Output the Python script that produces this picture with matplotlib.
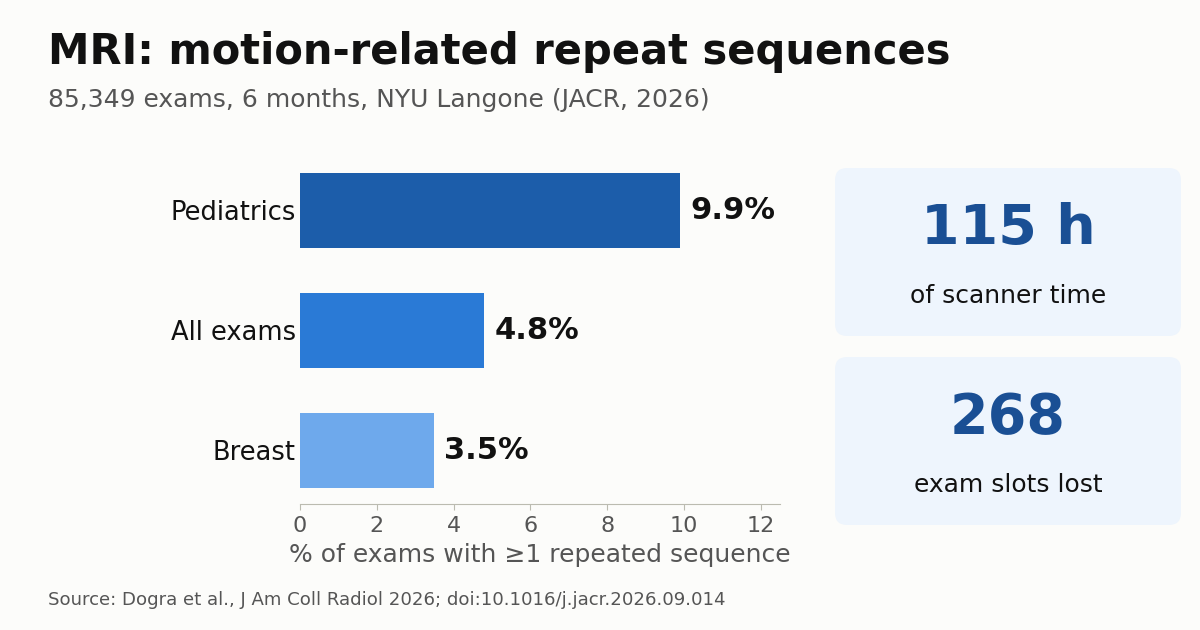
import matplotlib.pyplot as plt
from matplotlib.patches import FancyBboxPatch

# data
categories = ['Breast', 'All exams', 'Pediatrics']
values = [3.5, 4.8, 9.9]
bar_colors = ['#6ea9ec', '#2a7ad6', '#1c5daa']
xticks = [0, 2, 4, 6, 8, 10, 12]
card_values = ['115 h', '268']
card_labels = ['of scanner time', 'exam slots lost']

bg = '#fcfcfa'
plt.rcParams['font.family'] = ['DejaVu Sans']

fig = plt.figure(figsize=(12, 6.3), dpi=100, facecolor=bg)
ax = fig.add_axes([0.25, 0.2, 0.4, 0.552])
ax.set_facecolor(bg)

ypos = range(len(categories))
ax.barh(ypos, values, height=0.625, color=bar_colors)
for y, v in zip(ypos, values):
    ax.text(v + 0.26, y, f'{v:.1f}%', va='center', ha='left',
            fontsize=22, fontweight='bold', color='#111111')

ax.set_xlim(0, 12.5)
ax.set_ylim(-0.45, 2.45)
ax.set_yticks(list(ypos))
ax.set_yticklabels(categories, fontsize=18.5, color='#111111')
ax.tick_params(axis='y', length=0, pad=3)
ax.set_xticks(xticks)
ax.tick_params(axis='x', labelsize=16, colors='#555555', length=4, color='#bbbbb0', pad=5)
ax.set_xlabel('% of exams with \u22651 repeated sequence', fontsize=18,
              color='#555555', labelpad=5)
for s in ['top', 'right', 'left']:
    ax.spines[s].set_visible(False)
ax.spines['bottom'].set_color('#bbbbb0')

# title block
fig.text(0.04, 0.918, 'MRI: motion-related repeat sequences', fontsize=30,
         fontweight='bold', color='#111111', va='center', ha='left')
fig.text(0.04, 0.842, '85,349 exams, 6 months, NYU Langone (JACR, 2026)',
         fontsize=18, color='#555555', va='center', ha='left')
fig.text(0.04, 0.048, 'Source: Dogra et al., J Am Coll Radiol 2026; doi:10.1016/j.jacr.2026.09.014',
         fontsize=13.1, color='#555555', va='center', ha='left')

# stat cards
W, H = 1200, 630
cards_top = [168, 357]
for top, big, small in zip(cards_top, card_values, card_labels):
    x0, x1 = 835, 1181
    y0 = H - (top + 168)
    box = FancyBboxPatch((x0 / W, y0 / H), (x1 - x0) / W, 168 / H,
                         boxstyle='round,pad=0,rounding_size=0.01',
                         transform=fig.transFigure, facecolor='#eef5fd',
                         edgecolor='none', mutation_aspect=W / H)
    fig.patches.append(box)
    cx = (x0 + x1) / 2 / W
    fig.text(cx, 1 - (top + 61) / H, big, fontsize=40, fontweight='bold',
             color='#1a4f94', ha='center', va='center')
    fig.text(cx, 1 - (top + 128) / H, small, fontsize=18, color='#111111',
             ha='center', va='center')

fig.savefig('out.png', dpi=100, facecolor=bg)
